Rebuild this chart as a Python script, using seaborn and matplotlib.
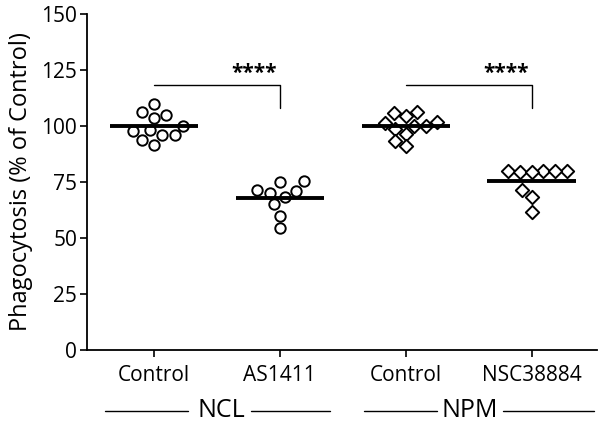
import numpy as np
import pandas as pd
import matplotlib
matplotlib.use("Agg")
import matplotlib.pyplot as plt
import seaborn as sns

# values (% of control)
ncl_control = [109.8, 105.0, 106.0, 103.7, 100.1, 97.7, 98.1, 95.9, 96.0, 93.5, 91.5]
ncl_as1411 = [70.9, 68.3, 74.9, 75.3, 70.2, 71.2, 65.0, 60.0, 54.3]
npm_control = [104.5, 101.3, 105.7, 106.3, 99.9, 98.8, 99.9, 101.6, 96.2, 93.2, 91.0]
npm_nsc = [80.0, 80.0, 79.5, 79.5, 80.0, 80.0, 71.5, 68.3, 61.4]

groups = ["NCL Control", "AS1411", "NPM Control", "NSC38884"]
tick_labels = ["Control", "AS1411", "Control", "NSC38884"]
yticks = [0, 25, 50, 75, 100, 125, 150]

rows = []
for g, vals in zip(groups, [ncl_control, ncl_as1411, npm_control, npm_nsc]):
    rows += [{"group": g, "value": v} for v in vals]
df = pd.DataFrame(rows)

sns.set_style("ticks")
plt.rcParams["font.family"] = ["Open Sans", "DejaVu Sans"]
for k in ["text.color", "axes.labelcolor", "xtick.color", "ytick.color", "axes.edgecolor"]:
    plt.rcParams[k] = "black"

fig = plt.figure(figsize=(6, 4.26), dpi=100)
ax = fig.add_axes([0.145, 0.178, 0.85, 0.79])

ncl = df[df["group"].isin(groups[:2])]
npm = df[df["group"].isin(groups[2:])]
sns.swarmplot(data=ncl, x="group", y="value", order=groups, marker="o", size=7.5,
              facecolor="white", edgecolor="black", linewidth=1.4, ax=ax)
sns.swarmplot(data=npm, x="group", y="value", order=groups, marker="D", size=6.8,
              facecolor="white", edgecolor="black", linewidth=1.4, ax=ax)
# keep markers hollow
for coll in ax.collections:
    coll.set_facecolor("white")
    coll.set_edgecolor("black")

# mean lines
means = df.groupby("group")["value"].mean()
for i, g in enumerate(groups):
    ax.hlines(means[g], i - 0.35, i + 0.35, color="black", lw=2.8, zorder=5)

# significance brackets
for a, b in [(0, 1), (2, 3)]:
    ax.plot([a, b, b], [118, 118, 108], color="black", lw=1)
    ax.text(b - 0.2, 118.5, "****", ha="center", va="bottom", fontsize=15, fontweight="bold")

ax.set_ylim(0, 150)
ax.set_xlim(-0.53, 3.52)
ax.set_yticks(yticks)
ax.set_xticks(range(4))
ax.set_xticklabels(tick_labels, fontsize=15)
ax.tick_params(axis="y", labelsize=15, length=5, width=1.2, pad=2)
ax.tick_params(axis="x", length=5, width=1.2, pad=6)
ax.set_xlabel("")
ax.set_ylabel("Phagocytosis (% of Control)", fontsize=17, labelpad=6)
sns.despine(ax=ax)
for s in ["left", "bottom"]:
    ax.spines[s].set_linewidth(1.3)

# group labels below the axis
trans = ax.get_xaxis_transform()
ylab = -0.18
for x0, x1, xt, x2, x3, name in [(-0.39, 0.27, 0.54, 0.77, 1.40, "NCL"),
                                 (1.67, 2.25, 2.51, 2.77, 3.50, "NPM")]:
    ax.plot([x0, x1], [ylab, ylab], color="black", lw=1, transform=trans, clip_on=False)
    ax.plot([x2, x3], [ylab, ylab], color="black", lw=1, transform=trans, clip_on=False)
    ax.text(xt, ylab, name, ha="center", va="center", fontsize=18, transform=trans)

fig.savefig("out.png", dpi=100)
